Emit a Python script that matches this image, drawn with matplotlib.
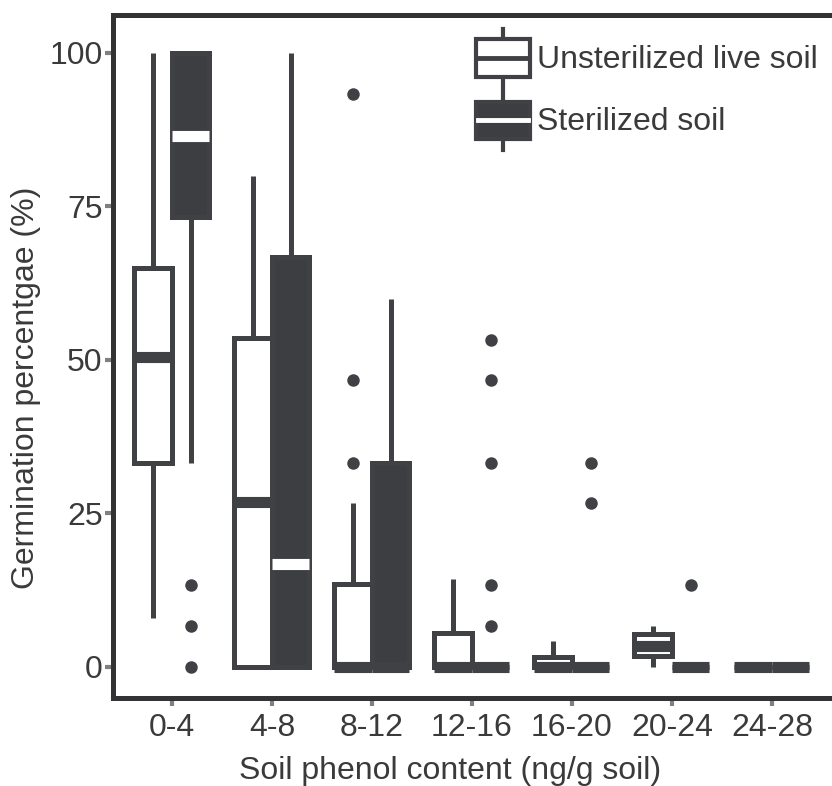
import matplotlib
matplotlib.use('Agg')
import matplotlib.pyplot as plt
from matplotlib.patches import Patch, Rectangle
from matplotlib.lines import Line2D
from matplotlib.legend_handler import HandlerBase

plt.rcParams['font.family'] = ['Liberation Sans', 'DejaVu Sans']

# Data (germination %, box stats per phenol class)
groups = ['0-4', '4-8', '8-12', '12-16', '16-20', '20-24', '24-28']

unster_lo = [8, 0, 0, 0, 0, 0, 0]
unster_q1 = [33.3, 0, 0, 0, 0, 1.8, 0]
unster_med = [50.5, 26.9, 0, 0, 0, 3.4, 0]
unster_q3 = [65, 53.6, 13.5, 5.5, 1.7, 5.3, 0]
unster_hi = [100, 80, 26.7, 14.3, 4.2, 6.7, 0]
unster_out = [[], [], [93.3, 46.7, 33.3], [], [], [], []]

ster_lo = [33.3, 0, 0, 0, 0, 0, 0]
ster_q1 = [73.3, 0, 0, 0, 0, 0, 0]
ster_med = [86.5, 16.8, 0, 0, 0, 0, 0]
ster_q3 = [100, 66.7, 33.3, 0, 0, 0, 0]
ster_hi = [100, 100, 60, 0, 0, 0, 0]
ster_out = [[13.3, 6.7, 0], [], [], [53.3, 46.7, 33.3, 13.3, 6.7], [33.3, 26.7], [13.3], []]

labels = ['Unsterilized live soil', 'Sterilized soil']
dark = '#404145'
tick_grey = '#808080'


def make_stats(lo, q1, med, q3, hi, out):
    return [dict(whislo=a, q1=b, med=c, q3=d, whishi=e, fliers=f)
            for a, b, c, d, e, f in zip(lo, q1, med, q3, hi, out)]


fig = plt.figure(figsize=(8.32, 7.86), dpi=100)
ax = fig.add_axes([0.1358, 0.112, 0.8642, 0.869])

lw = 3.6
width = 0.375
pos = range(len(groups))

common = dict(widths=width, showcaps=False, patch_artist=True,
              whiskerprops=dict(color=dark, linewidth=lw, solid_capstyle='butt'),
              flierprops=dict(marker='o', markersize=9, markerfacecolor=dark,
                              markeredgecolor='none'))

b1 = ax.bxp(make_stats(unster_lo, unster_q1, unster_med, unster_q3, unster_hi, unster_out),
            positions=[p - 0.1875 for p in pos],
            boxprops=dict(facecolor='white', edgecolor=dark, linewidth=lw),
            medianprops=dict(color=dark, linewidth=8, solid_capstyle='butt'),
            **common)
b2 = ax.bxp(make_stats(ster_lo, ster_q1, ster_med, ster_q3, ster_hi, ster_out),
            positions=[p + 0.1875 for p in pos],
            boxprops=dict(facecolor='#3d3e42', edgecolor=dark, linewidth=lw),
            medianprops=dict(color='white', linewidth=8, solid_capstyle='butt'),
            **common)

# the white median only shows when it sits inside the box
for line, q1, med, q3 in zip(b2['medians'], ster_q1, ster_med, ster_q3):
    if not (q1 < med < q3):
        line.set_color(dark)

ax.set_xlim(-0.59, 6.6)
ax.set_ylim(-5.05, 106.2)
ax.set_xticks(list(pos))
ax.set_xticklabels(groups)
ax.set_yticks([0, 25, 50, 75, 100])

for side in ['left', 'bottom', 'top']:
    ax.spines[side].set_linewidth(3.6)
    ax.spines[side].set_color('#333336')
ax.spines['right'].set_visible(False)

ax.tick_params(axis='both', labelsize=23, colors=tick_grey, labelcolor='#3a3a3a',
               width=3, length=6)
ax.tick_params(axis='y', pad=1.5)
ax.tick_params(axis='x', pad=5)

ax.set_xlabel('Soil phenol content (ng/g soil)', fontsize=23, color='#3a3a3a', labelpad=9)
ax.xaxis.label.set_x(0.469)
ax.set_ylabel('Germination percentgae (%)', fontsize=23, color='#3a3a3a', labelpad=6)
ax.yaxis.label.set_y(0.454)


class BoxKey(HandlerBase):
    def __init__(self, med_color):
        super().__init__()
        self.med_color = med_color

    def create_artists(self, legend, orig_handle, xdescent, ydescent,
                       width, height, fontsize, trans):
        x0, y0 = -xdescent, -ydescent
        whisk = Line2D([x0 + width / 2] * 2, [y0, y0 + height], color=dark,
                       linewidth=3, transform=trans)
        rect = Rectangle((x0, y0 + height * 0.18), width, height * 0.64,
                         facecolor=orig_handle.get_facecolor(), edgecolor=dark,
                         linewidth=3, transform=trans)
        med = Line2D([x0 + 1.5, x0 + width - 1.5], [y0 + height / 2] * 2,
                     color=self.med_color, linewidth=3.5, transform=trans)
        return [whisk, rect, med]


h1 = Patch(facecolor='white', edgecolor=dark)
h2 = Patch(facecolor='#3d3e42', edgecolor=dark)
ax.legend([h1, h2], labels, handler_map={h1: BoxKey(dark), h2: BoxKey('white')},
          loc='upper left', bbox_to_anchor=(0.505, 0.98), frameon=False,
          fontsize=23, handlelength=1.7, handleheight=2.45, handletextpad=0.2,
          labelspacing=0.12, borderpad=0, borderaxespad=0,
          labelcolor='#3a3a3a')

fig.savefig('out.png', dpi=100)
